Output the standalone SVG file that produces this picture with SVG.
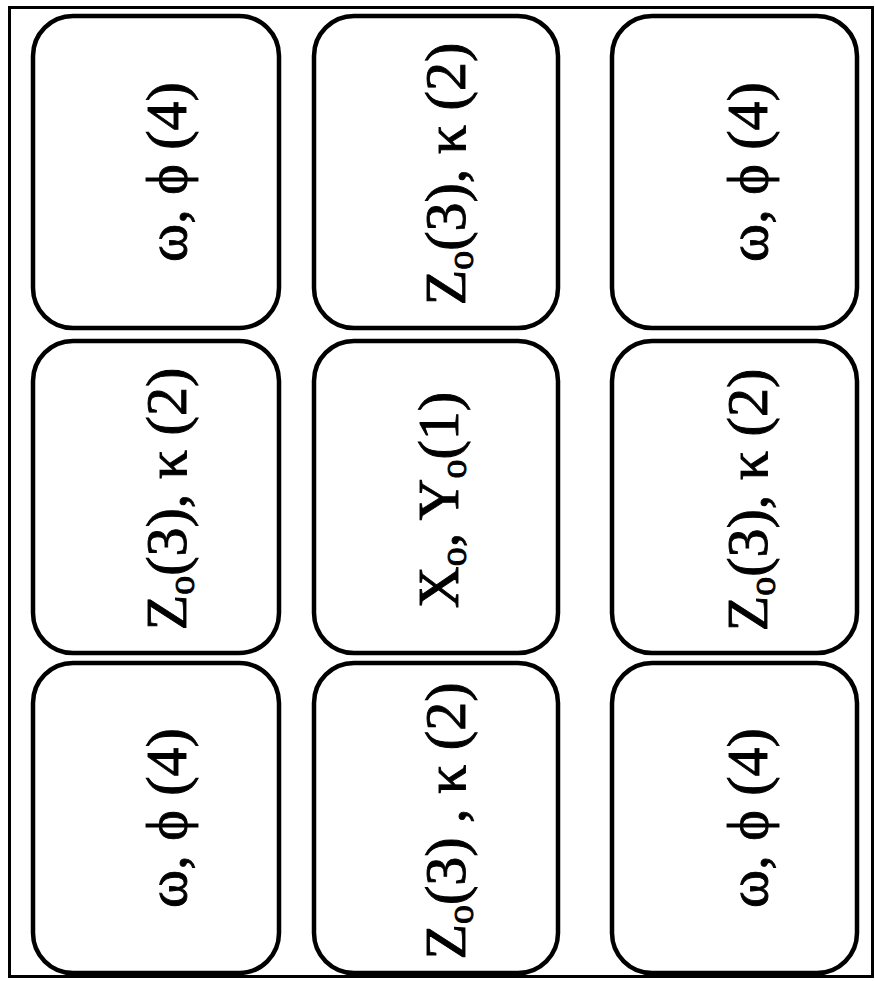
<svg xmlns="http://www.w3.org/2000/svg" width="875" height="981" viewBox="0 0 875 981">
<style>
.frame{fill:none;stroke:#000;stroke-width:3}
.box{fill:#fff;stroke:#000;stroke-width:4.5}
.lbl{font-family:"Liberation Serif","Times New Roman",serif;font-size:58px;fill:#000;stroke:#000;stroke-width:0.9;text-anchor:middle}
.sub{font-size:38px}
</style>
<rect width="875" height="981" fill="#fff"/>
<rect class="frame" x="9.5" y="7.5" width="863" height="969"/>
<g id="connectors"></g>
<g id="n11"><rect class="box" x="33" y="16" width="246" height="312" rx="40"/><text class="lbl" transform="translate(156,172) rotate(-90)" y="30">ω, ϕ (4)</text></g>
<g id="n12"><rect class="box" x="314" y="16" width="244" height="312" rx="40"/><text class="lbl" transform="translate(436,174) rotate(-90)" y="29">Z<tspan class="sub" dy="8">o</tspan><tspan dy="-8">(3), κ (2)</tspan></text></g>
<g id="n13"><rect class="box" x="612" y="16" width="245" height="312" rx="40"/><text class="lbl" transform="translate(734.5,172) rotate(-90)" y="32">ω, ϕ (4)</text></g>
<g id="n21"><rect class="box" x="33" y="341" width="246" height="312" rx="40"/><text class="lbl" transform="translate(156,499) rotate(-90)" y="30">Z<tspan class="sub" dy="8">o</tspan><tspan dy="-8">(3), κ (2)</tspan></text></g>
<g id="n22"><rect class="box" x="314" y="341" width="244" height="312" rx="40"/><text class="lbl" transform="translate(436,500) rotate(-90)" y="22">X<tspan class="sub" dy="8">o</tspan><tspan dy="-8">, Y</tspan><tspan class="sub" dy="8">o</tspan><tspan dy="-8">(1)</tspan></text></g>
<g id="n23"><rect class="box" x="612" y="341" width="245" height="312" rx="40"/><text class="lbl" transform="translate(734.5,500) rotate(-90)" y="32">Z<tspan class="sub" dy="8">o</tspan><tspan dy="-8">(3), κ (2)</tspan></text></g>
<g id="n31"><rect class="box" x="33" y="663" width="246" height="310" rx="40"/><text class="lbl" transform="translate(156,818) rotate(-90)" y="30">ω, ϕ (4)</text></g>
<g id="n32"><rect class="box" x="314" y="663" width="244" height="310" rx="40"/><text class="lbl" transform="translate(436,821) rotate(-90)" y="29">Z<tspan class="sub" dy="8">o</tspan><tspan dy="-8">(3) , κ (2)</tspan></text></g>
<g id="n33"><rect class="box" x="612" y="663" width="245" height="310" rx="40"/><text class="lbl" transform="translate(734.5,818) rotate(-90)" y="32">ω, ϕ (4)</text></g>
</svg>
